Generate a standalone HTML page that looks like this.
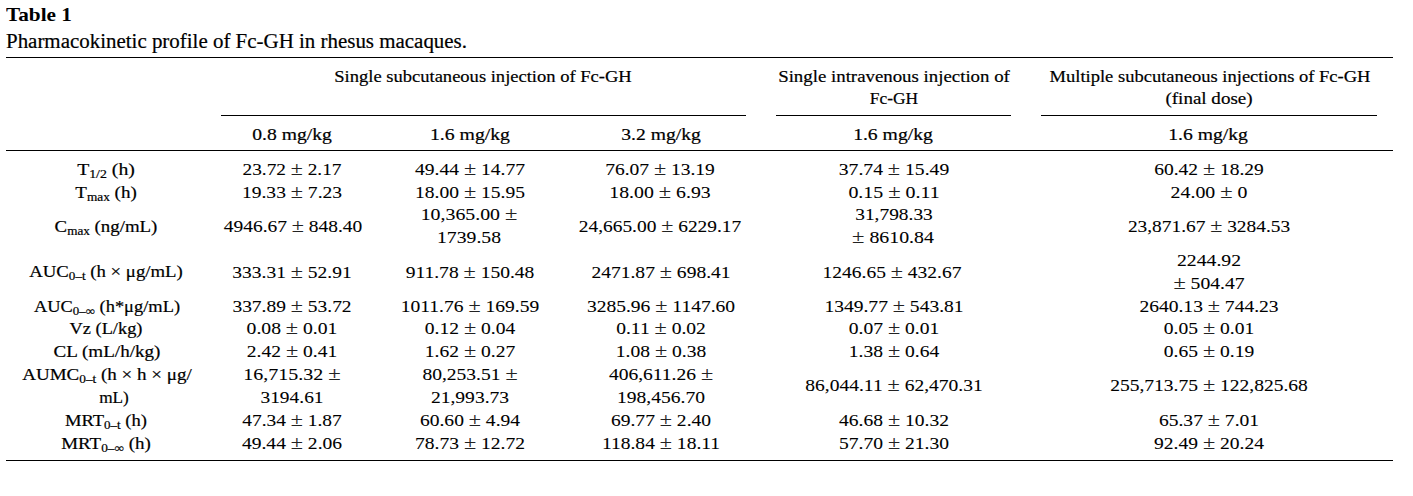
<!DOCTYPE html>
<html><head><meta charset="utf-8"><style>
html,body{margin:0;padding:0;background:#fff;width:1413px;height:496px;overflow:hidden;position:relative}
.t{position:absolute;white-space:nowrap;line-height:0;font-family:"Liberation Serif",serif;color:#000;-webkit-text-stroke:0.2px #000}
.n{-webkit-text-stroke:0.08px #000}
.c{transform-origin:0 0}
.sb{font-size:70%;position:relative;top:0.3em}
.pm{font-size:114%;color:#222}
.r{position:absolute;height:1px;background:#000}
</style></head><body>
<div class='r' style='left:6px;top:57px;width:1387px'></div>
<div class='r' style='left:221px;top:115px;width:525px'></div>
<div class='r' style='left:776px;top:115px;width:235px'></div>
<div class='r' style='left:1041px;top:115px;width:336px'></div>
<div class='r' style='left:6px;top:150px;width:1387px'></div>
<div class='r' style='left:6px;top:460px;width:1387px'></div>
<div class='t' id='t0' style='top:14.92px;font-size:19.5px;font-weight:bold;-webkit-text-stroke:0;left:6.00px;transform:scaleX(1.0900);transform-origin:0 0;'>Table 1</div>
<div class='t' id='t1' style='top:40.75px;font-size:20px;left:5.80px;transform:scaleX(1.0467);transform-origin:0 0;'>Pharmacokinetic profile of Fc-GH in rhesus macaques.</div>
<div class='t' id='t2' style='top:76.76px;font-size:17.0px;left:482.60px;transform:scaleX(1.0896) translateX(-50%);transform-origin:0 0;'>Single subcutaneous injection of Fc-GH</div>
<div class='t' id='t3' style='top:76.76px;font-size:17.0px;left:893.55px;transform:scaleX(1.1077) translateX(-50%);transform-origin:0 0;'>Single intravenous injection of</div>
<div class='t' id='t4' style='top:98.76px;font-size:17.0px;left:893.75px;transform:scaleX(1.0225) translateX(-50%);transform-origin:0 0;'>Fc-GH</div>
<div class='t' id='t5' style='top:76.76px;font-size:17.0px;left:1210.24px;transform:scaleX(1.0893) translateX(-50%);transform-origin:0 0;'>Multiple subcutaneous injections of Fc-GH</div>
<div class='t' id='t6' style='top:98.76px;font-size:17.0px;left:1209.10px;transform:scaleX(1.1186) translateX(-50%);transform-origin:0 0;'>(final dose)</div>
<div class='t' id='t7' style='top:134.76px;font-size:17.0px;left:292.15px;transform:scaleX(1.1527) translateX(-50%);transform-origin:0 0;'>0.8 mg/kg</div>
<div class='t' id='t8' style='top:134.76px;font-size:17.0px;left:469.97px;transform:scaleX(1.1597) translateX(-50%);transform-origin:0 0;'>1.6 mg/kg</div>
<div class='t' id='t9' style='top:134.76px;font-size:17.0px;left:661.38px;transform:scaleX(1.1520) translateX(-50%);transform-origin:0 0;'>3.2 mg/kg</div>
<div class='t' id='t10' style='top:134.76px;font-size:17.0px;left:893.25px;transform:scaleX(1.1565) translateX(-50%);transform-origin:0 0;'>1.6 mg/kg</div>
<div class='t' id='t11' style='top:134.76px;font-size:17.0px;left:1208.11px;transform:scaleX(1.1552) translateX(-50%);transform-origin:0 0;'>1.6 mg/kg</div>
<div class='t' id='t12' style='top:169.76px;font-size:17.0px;left:106.47px;transform:scaleX(1.1621) translateX(-50%);transform-origin:0 0;'>T<span class='sb'>1/2</span> (h)</div>
<div class='t' id='t13' style='top:192.76px;font-size:17.0px;left:106.47px;transform:scaleX(1.1178) translateX(-50%);transform-origin:0 0;'>T<span class='sb'>max</span> (h)</div>
<div class='t' id='t14' style='top:226.76px;font-size:17.0px;left:106.25px;transform:scaleX(1.1085) translateX(-50%);transform-origin:0 0;'>C<span class='sb'>max</span> (ng/mL)</div>
<div class='t' id='t15' style='top:271.76px;font-size:17.0px;left:106.48px;transform:scaleX(1.1024) translateX(-50%);transform-origin:0 0;'>AUC<span class='sb'>0–t</span> (h × μg/mL)</div>
<div class='t' id='t16' style='top:306.76px;font-size:17.0px;left:106.80px;transform:scaleX(1.0834) translateX(-50%);transform-origin:0 0;'>AUC<span class='sb'>0–∞</span> (h*μg/mL)</div>
<div class='t' id='t17' style='top:328.76px;font-size:17.0px;left:106.48px;transform:scaleX(1.0796) translateX(-50%);transform-origin:0 0;'>Vz (L/kg)</div>
<div class='t' id='t18' style='top:351.76px;font-size:17.0px;left:106.89px;transform:scaleX(1.1222) translateX(-50%);transform-origin:0 0;'>CL (mL/h/kg)</div>
<div class='t' id='t19' style='top:374.76px;font-size:17.0px;left:106.65px;transform:scaleX(1.1179) translateX(-50%);transform-origin:0 0;'>AUMC<span class='sb'>0–t</span> (h × h × μg/</div>
<div class='t' id='t20' style='top:397.76px;font-size:17.0px;left:113.93px;transform:scaleX(1.0141) translateX(-50%);transform-origin:0 0;'>mL)</div>
<div class='t' id='t21' style='top:420.76px;font-size:17.0px;left:106.24px;transform:scaleX(1.0915) translateX(-50%);transform-origin:0 0;'>MRT<span class='sb'>0–t</span> (h)</div>
<div class='t' id='t22' style='top:443.76px;font-size:17.0px;left:106.24px;transform:scaleX(1.1166) translateX(-50%);transform-origin:0 0;'>MRT<span class='sb'>0–∞</span> (h)</div>
<div class='t n' id='t23' style='top:168.96px;font-size:17.0px;left:291.93px;transform:scaleX(1.1358) translateX(-50%);transform-origin:0 0;'>23.72 <span class='pm'>±</span> 2.17</div>
<div class='t n' id='t24' style='top:191.96px;font-size:17.0px;left:292.20px;transform:scaleX(1.1487) translateX(-50%);transform-origin:0 0;'>19.33 <span class='pm'>±</span> 7.23</div>
<div class='t n' id='t25' style='top:225.96px;font-size:17.0px;left:292.62px;transform:scaleX(1.1434) translateX(-50%);transform-origin:0 0;'>4946.67 <span class='pm'>±</span> 848.40</div>
<div class='t n' id='t26' style='top:271.96px;font-size:17.0px;left:291.80px;transform:scaleX(1.1474) translateX(-50%);transform-origin:0 0;'>333.31 <span class='pm'>±</span> 52.91</div>
<div class='t n' id='t27' style='top:305.96px;font-size:17.0px;left:292.20px;transform:scaleX(1.1445) translateX(-50%);transform-origin:0 0;'>337.89 <span class='pm'>±</span> 53.72</div>
<div class='t n' id='t28' style='top:327.96px;font-size:17.0px;left:291.80px;transform:scaleX(1.1549) translateX(-50%);transform-origin:0 0;'>0.08 <span class='pm'>±</span> 0.01</div>
<div class='t n' id='t29' style='top:350.96px;font-size:17.0px;left:292.20px;transform:scaleX(1.1487) translateX(-50%);transform-origin:0 0;'>2.42 <span class='pm'>±</span> 0.41</div>
<div class='t n' id='t30' style='top:373.96px;font-size:17.0px;left:291.88px;transform:scaleX(1.1756) translateX(-50%);transform-origin:0 0;'>16,715.32 <span class='pm'>±</span></div>
<div class='t n' id='t31' style='top:397.76px;font-size:17.0px;left:291.80px;transform:scaleX(1.1420) translateX(-50%);transform-origin:0 0;'>3194.61</div>
<div class='t n' id='t32' style='top:419.96px;font-size:17.0px;left:291.62px;transform:scaleX(1.1426) translateX(-50%);transform-origin:0 0;'>47.34 <span class='pm'>±</span> 1.87</div>
<div class='t n' id='t33' style='top:442.96px;font-size:17.0px;left:292.20px;transform:scaleX(1.1487) translateX(-50%);transform-origin:0 0;'>49.44 <span class='pm'>±</span> 2.06</div>
<div class='t n' id='t34' style='top:168.96px;font-size:17.0px;left:469.75px;transform:scaleX(1.1499) translateX(-50%);transform-origin:0 0;'>49.44 <span class='pm'>±</span> 14.77</div>
<div class='t n' id='t35' style='top:191.96px;font-size:17.0px;left:469.80px;transform:scaleX(1.1487) translateX(-50%);transform-origin:0 0;'>18.00 <span class='pm'>±</span> 15.95</div>
<div class='t n' id='t36' style='top:213.96px;font-size:17.0px;left:468.70px;transform:scaleX(1.1655) translateX(-50%);transform-origin:0 0;'>10,365.00 <span class='pm'>±</span></div>
<div class='t n' id='t37' style='top:237.76px;font-size:17.0px;left:468.70px;transform:scaleX(1.1572) translateX(-50%);transform-origin:0 0;'>1739.58</div>
<div class='t n' id='t38' style='top:271.96px;font-size:17.0px;left:469.80px;transform:scaleX(1.1487) translateX(-50%);transform-origin:0 0;'>911.78 <span class='pm'>±</span> 150.48</div>
<div class='t n' id='t39' style='top:305.96px;font-size:17.0px;left:469.80px;transform:scaleX(1.1487) translateX(-50%);transform-origin:0 0;'>1011.76 <span class='pm'>±</span> 169.59</div>
<div class='t n' id='t40' style='top:327.96px;font-size:17.0px;left:469.80px;transform:scaleX(1.1487) translateX(-50%);transform-origin:0 0;'>0.12 <span class='pm'>±</span> 0.04</div>
<div class='t n' id='t41' style='top:350.96px;font-size:17.0px;left:469.80px;transform:scaleX(1.1487) translateX(-50%);transform-origin:0 0;'>1.62 <span class='pm'>±</span> 0.27</div>
<div class='t n' id='t42' style='top:373.96px;font-size:17.0px;left:469.80px;transform:scaleX(1.1487) translateX(-50%);transform-origin:0 0;'>80,253.51 <span class='pm'>±</span></div>
<div class='t n' id='t43' style='top:397.76px;font-size:17.0px;left:469.80px;transform:scaleX(1.1487) translateX(-50%);transform-origin:0 0;'>21,993.73</div>
<div class='t n' id='t44' style='top:419.96px;font-size:17.0px;left:469.80px;transform:scaleX(1.1487) translateX(-50%);transform-origin:0 0;'>60.60 <span class='pm'>±</span> 4.94</div>
<div class='t n' id='t45' style='top:442.96px;font-size:17.0px;left:469.80px;transform:scaleX(1.1487) translateX(-50%);transform-origin:0 0;'>78.73 <span class='pm'>±</span> 12.72</div>
<div class='t n' id='t46' style='top:168.96px;font-size:17.0px;left:659.90px;transform:scaleX(1.1470) translateX(-50%);transform-origin:0 0;'>76.07 <span class='pm'>±</span> 13.19</div>
<div class='t n' id='t47' style='top:191.96px;font-size:17.0px;left:660.25px;transform:scaleX(1.1630) translateX(-50%);transform-origin:0 0;'>18.00 <span class='pm'>±</span> 6.93</div>
<div class='t n' id='t48' style='top:225.96px;font-size:17.0px;left:660.11px;transform:scaleX(1.1413) translateX(-50%);transform-origin:0 0;'>24,665.00 <span class='pm'>±</span> 6229.17</div>
<div class='t n' id='t49' style='top:271.96px;font-size:17.0px;left:661.00px;transform:scaleX(1.1487) translateX(-50%);transform-origin:0 0;'>2471.87 <span class='pm'>±</span> 698.41</div>
<div class='t n' id='t50' style='top:305.96px;font-size:17.0px;left:661.00px;transform:scaleX(1.1487) translateX(-50%);transform-origin:0 0;'>3285.96 <span class='pm'>±</span> 1147.60</div>
<div class='t n' id='t51' style='top:327.96px;font-size:17.0px;left:661.00px;transform:scaleX(1.1487) translateX(-50%);transform-origin:0 0;'>0.11 <span class='pm'>±</span> 0.02</div>
<div class='t n' id='t52' style='top:350.96px;font-size:17.0px;left:661.00px;transform:scaleX(1.1487) translateX(-50%);transform-origin:0 0;'>1.08 <span class='pm'>±</span> 0.38</div>
<div class='t n' id='t53' style='top:373.96px;font-size:17.0px;left:661.00px;transform:scaleX(1.1487) translateX(-50%);transform-origin:0 0;'>406,611.26 <span class='pm'>±</span></div>
<div class='t n' id='t54' style='top:397.76px;font-size:17.0px;left:661.00px;transform:scaleX(1.1487) translateX(-50%);transform-origin:0 0;'>198,456.70</div>
<div class='t n' id='t55' style='top:419.96px;font-size:17.0px;left:661.00px;transform:scaleX(1.1487) translateX(-50%);transform-origin:0 0;'>69.77 <span class='pm'>±</span> 2.40</div>
<div class='t n' id='t56' style='top:442.96px;font-size:17.0px;left:661.00px;transform:scaleX(1.1487) translateX(-50%);transform-origin:0 0;'>118.84 <span class='pm'>±</span> 18.11</div>
<div class='t n' id='t57' style='top:168.96px;font-size:17.0px;left:893.70px;transform:scaleX(1.1552) translateX(-50%);transform-origin:0 0;'>37.74 <span class='pm'>±</span> 15.49</div>
<div class='t n' id='t58' style='top:191.96px;font-size:17.0px;left:893.70px;transform:scaleX(1.1691) translateX(-50%);transform-origin:0 0;'>0.15 <span class='pm'>±</span> 0.11</div>
<div class='t n' id='t59' style='top:214.76px;font-size:17.0px;left:893.60px;transform:scaleX(1.1400) translateX(-50%);transform-origin:0 0;'>31,798.33</div>
<div class='t n' id='t60' style='top:236.96px;font-size:17.0px;left:892.50px;transform:scaleX(1.1669) translateX(-50%);transform-origin:0 0;'><span class='pm'>±</span> 8610.84</div>
<div class='t n' id='t61' style='top:271.96px;font-size:17.0px;left:891.93px;transform:scaleX(1.1462) translateX(-50%);transform-origin:0 0;'>1246.65 <span class='pm'>±</span> 432.67</div>
<div class='t n' id='t62' style='top:305.96px;font-size:17.0px;left:893.60px;transform:scaleX(1.1487) translateX(-50%);transform-origin:0 0;'>1349.77 <span class='pm'>±</span> 543.81</div>
<div class='t n' id='t63' style='top:327.96px;font-size:17.0px;left:893.60px;transform:scaleX(1.1487) translateX(-50%);transform-origin:0 0;'>0.07 <span class='pm'>±</span> 0.01</div>
<div class='t n' id='t64' style='top:350.96px;font-size:17.0px;left:893.60px;transform:scaleX(1.1487) translateX(-50%);transform-origin:0 0;'>1.38 <span class='pm'>±</span> 0.64</div>
<div class='t n' id='t65' style='top:384.96px;font-size:17.0px;left:893.60px;transform:scaleX(1.1487) translateX(-50%);transform-origin:0 0;'>86,044.11 <span class='pm'>±</span> 62,470.31</div>
<div class='t n' id='t66' style='top:419.96px;font-size:17.0px;left:893.60px;transform:scaleX(1.1487) translateX(-50%);transform-origin:0 0;'>46.68 <span class='pm'>±</span> 10.32</div>
<div class='t n' id='t67' style='top:442.96px;font-size:17.0px;left:893.60px;transform:scaleX(1.1487) translateX(-50%);transform-origin:0 0;'>57.70 <span class='pm'>±</span> 21.30</div>
<div class='t n' id='t68' style='top:168.96px;font-size:17.0px;left:1209.20px;transform:scaleX(1.1468) translateX(-50%);transform-origin:0 0;'>60.42 <span class='pm'>±</span> 18.29</div>
<div class='t n' id='t69' style='top:191.96px;font-size:17.0px;left:1209.40px;transform:scaleX(1.1651) translateX(-50%);transform-origin:0 0;'>24.00 <span class='pm'>±</span> 0</div>
<div class='t n' id='t70' style='top:225.96px;font-size:17.0px;left:1209.24px;transform:scaleX(1.1394) translateX(-50%);transform-origin:0 0;'>23,871.67 <span class='pm'>±</span> 3284.53</div>
<div class='t n' id='t71' style='top:260.76px;font-size:17.0px;left:1209.38px;transform:scaleX(1.1587) translateX(-50%);transform-origin:0 0;'>2244.92</div>
<div class='t n' id='t72' style='top:282.96px;font-size:17.0px;left:1209.00px;transform:scaleX(1.1552) translateX(-50%);transform-origin:0 0;'><span class='pm'>±</span> 504.47</div>
<div class='t n' id='t73' style='top:305.96px;font-size:17.0px;left:1209.30px;transform:scaleX(1.1487) translateX(-50%);transform-origin:0 0;'>2640.13 <span class='pm'>±</span> 744.23</div>
<div class='t n' id='t74' style='top:327.96px;font-size:17.0px;left:1209.30px;transform:scaleX(1.1487) translateX(-50%);transform-origin:0 0;'>0.05 <span class='pm'>±</span> 0.01</div>
<div class='t n' id='t75' style='top:350.96px;font-size:17.0px;left:1209.30px;transform:scaleX(1.1487) translateX(-50%);transform-origin:0 0;'>0.65 <span class='pm'>±</span> 0.19</div>
<div class='t n' id='t76' style='top:384.96px;font-size:17.0px;left:1209.30px;transform:scaleX(1.1487) translateX(-50%);transform-origin:0 0;'>255,713.75 <span class='pm'>±</span> 122,825.68</div>
<div class='t n' id='t77' style='top:419.96px;font-size:17.0px;left:1209.30px;transform:scaleX(1.1487) translateX(-50%);transform-origin:0 0;'>65.37 <span class='pm'>±</span> 7.01</div>
<div class='t n' id='t78' style='top:442.96px;font-size:17.0px;left:1209.30px;transform:scaleX(1.1487) translateX(-50%);transform-origin:0 0;'>92.49 <span class='pm'>±</span> 20.24</div>
</body></html>
